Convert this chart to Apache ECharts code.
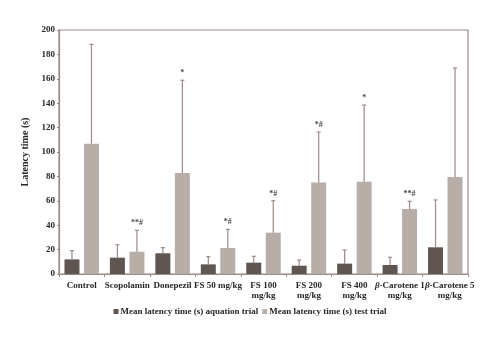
<!DOCTYPE html>
<html>
<head>
<meta charset="utf-8">
<script src="https://cdn.jsdelivr.net/npm/echarts@6/dist/echarts.min.js"></script>
<style>
  html, body { margin: 0; padding: 0; background: #fff; }
  #chart { width: 500px; height: 343px; }
</style>
</head>
<body>
<div id="chart"></div>
<script>
// Groups along the x axis
const categories = ['Control', 'Scopolamin', 'Donepezil', 'FS 50 mg/kg', 'FS 100\nmg/kg',
  'FS 200\nmg/kg', 'FS 400\nmg/kg', '{b|β}-Carotene 1\nmg/kg', '{bs|β}-Carotene 5\n{s|mg/kg}'];

// Mean latency (s) and upper error limits, aquation trial
const aquationMean = [12.0, 13.4, 17.0, 7.9, 9.3, 6.8, 8.5, 7.4, 21.9];
const aquationUpper = [19.1, 24.0, 21.6, 14.2, 14.5, 11.5, 19.7, 13.7, 60.7];

// Mean latency (s) and upper error limits, test trial
const testMean = [106.8, 18.3, 82.8, 21.3, 33.9, 75.1, 75.7, 53.3, 79.5];
const testUpper = [188.3, 35.8, 158.8, 36.6, 60.1, 116.4, 138.5, 59.6, 168.9];

// Significance marks above the test-trial bars
const testMarks = ['', '**#', '*', '*#', '*#', '*#', '*', '**#', ''];

const seriesNames = ['Mean latency time (s) aquation trial', 'Mean latency time (s) test trial'];
const yTicks = { min: 0, max: 200, interval: 20 };

const FONT = "'Liberation Serif', 'DejaVu Serif', serif";
const TEXT = '#2a2624';
const DARK = '#5f5651';
const LIGHT = '#b8aea7';
const LINE = '#9a8b87';
const BAR_W = 15;
const BAR_GAP = 0.3;

function errorSeries(name, upper, mean, marks, side) {
  return {
    type: 'custom',
    name: name + ' err',
    data: upper.map((u, i) => [i, mean[i], u, marks ? marks[i] : '']),
    z: 5,
    silent: true,
    renderItem: function (params, api) {
      const i = api.value(0);
      const base = api.coord([i, api.value(1)]);
      const top = api.coord([i, api.value(2)]);
      const off = (BAR_W + BAR_W * BAR_GAP) / 2 * side;
      const x = base[0] + off;
      const children = [
        { type: 'line', shape: { x1: x, y1: base[1], x2: x, y2: top[1] },
          style: { stroke: LINE, lineWidth: 1.2 } },
        { type: 'line', shape: { x1: x - 2, y1: top[1], x2: x + 2, y2: top[1] },
          style: { stroke: LINE, lineWidth: 1.2 } }
      ];
      const mark = api.value(3);
      if (mark) {
        children.push({ type: 'text', style: {
          text: mark, x: x, y: top[1] - 3, align: 'center', verticalAlign: 'bottom',
          fill: '#4a4340', font: 'bold 8px ' + FONT } });
      }
      return { type: 'group', children: children };
    }
  };
}

const labelBase = { fontFamily: FONT, fontWeight: 'bold', fontSize: 9, color: TEXT };

const chart = echarts.init(document.getElementById('chart'), null, { renderer: 'canvas' });
chart.setOption({
  animation: false,
  textStyle: { fontFamily: FONT },
  grid: { left: 59, right: 32, top: 30, bottom: 69, show: true, borderColor: LINE, borderWidth: 1.2 },
  legend: {
    top: 302, left: 'center',
    itemWidth: 5, itemHeight: 5, itemGap: 4,
    icon: 'rect',
    data: seriesNames,
    textStyle: Object.assign({}, labelBase, { padding: [0, 0, 0, -3] })
  },
  xAxis: {
    type: 'category',
    data: categories,
    axisLine: { lineStyle: { color: LINE, width: 1.2 } },
    axisTick: { show: true, length: 3, lineStyle: { color: LINE } },
    axisLabel: Object.assign({}, labelBase, {
      interval: 0, margin: 6, lineHeight: 10.5, hideOverlap: false,
      rich: {
        b: Object.assign({}, labelBase, { fontStyle: 'italic' }),
        bs: Object.assign({}, labelBase, { fontStyle: 'italic', padding: [0, 0, 0, 9] }),
        s: Object.assign({}, labelBase, { padding: [0, 0, 0, 9] })
      }
    })
  },
  yAxis: {
    type: 'value',
    min: yTicks.min, max: yTicks.max, interval: yTicks.interval,
    name: 'Latency time (s)',
    nameLocation: 'middle', nameGap: 22, nameRotate: 90,
    nameTextStyle: Object.assign({}, labelBase, { fontSize: 10 }),
    axisLine: { show: true, lineStyle: { color: LINE, width: 1.2 } },
    axisTick: { show: true, length: 2, lineStyle: { color: LINE } },
    splitLine: { show: false },
    axisLabel: Object.assign({}, labelBase, { margin: 4 })
  },
  series: [
    { type: 'bar', name: seriesNames[0], data: aquationMean, barWidth: BAR_W, barGap: (BAR_GAP * 100) + '%',
      itemStyle: { color: DARK } },
    { type: 'bar', name: seriesNames[1], data: testMean, barWidth: BAR_W,
      itemStyle: { color: LIGHT } },
    errorSeries(seriesNames[0], aquationUpper, aquationMean, null, -1),
    errorSeries(seriesNames[1], testUpper, testMean, testMarks, 1)
  ]
});
</script>
</body>
</html>
